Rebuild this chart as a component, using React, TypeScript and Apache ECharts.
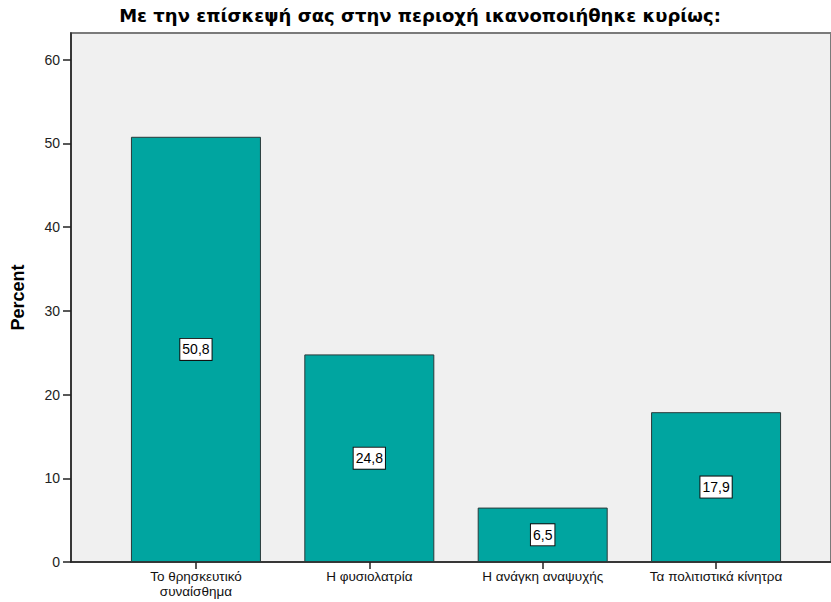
import React, { useEffect, useRef } from "react";
import * as echarts from "echarts";

const titleText = "Με την επίσκεψή σας στην περιοχή ικανοποιήθηκε κυρίως:";
const categories = [
  "Το θρησκευτικό\nσυναίσθημα",
  "Η φυσιολατρία",
  "Η ανάγκη αναψυχής",
  "Τα πολιτιστικά κίνητρα",
];
const percents = [50.8, 24.8, 6.5, 17.9];
const yTicks = [0, 10, 20, 30, 40, 50, 60];
const yMax = 63.2;

export default function App() {
  const ref = useRef<HTMLDivElement>(null);
  useEffect(() => {
    if (!ref.current) return;
    const chart = echarts.init(ref.current, null, { renderer: "svg" });
    const font = "Liberation Sans, Arial, sans-serif";
    chart.setOption({
      animation: false,
      backgroundColor: "#ffffff",
      textStyle: { fontFamily: font },
      graphic: [
        {
          type: "text",
          x: 420,
          y: 15,
          style: {
            text: titleText,
            fontSize: 18,
            fontWeight: "bold",
            fontFamily: "DejaVu Sans, sans-serif",
            fill: "#000",
            textAlign: "center",
            textVerticalAlign: "middle",
          },
        },
      ],
      grid: [
        {
          left: 71,
          right: -10,
          top: 33,
          bottom: 40,
          show: true,
          backgroundColor: "#F0F0F0",
          borderColor: "#7a7a7a",
          borderWidth: 2,
        },
        { left: 109.25, right: 28.25, top: 33, bottom: 40 },
      ],
      xAxis: [
        {
          gridIndex: 0,
          type: "value",
          min: 0,
          max: 1,
          axisLine: { show: true, lineStyle: { color: "#222", width: 1.5 } },
          axisTick: { show: false },
          axisLabel: { show: false },
          splitLine: { show: false },
        },
        {
          gridIndex: 1,
          type: "category",
          data: categories,
          axisLine: { show: false },
          axisTick: {
            show: true,
            alignWithLabel: true,
            length: 7,
            lineStyle: { color: "#222", width: 1.5 },
          },
          axisLabel: {
            color: "#111",
            fontSize: 13.5,
            lineHeight: 15,
            margin: 7,
            fontFamily: font,
            interval: 0,
          },
        },
      ],
      yAxis: [
        {
          gridIndex: 0,
          type: "value",
          min: 0,
          max: yMax,
          interval: 10,
          name: "Percent",
          nameLocation: "middle",
          nameGap: 44,
          nameTextStyle: {
            fontSize: 18,
            fontWeight: "bold",
            color: "#000",
            fontFamily: font,
          },
          axisLine: { show: true, lineStyle: { color: "#222", width: 1.5 } },
          axisTick: {
            show: true,
            length: 8,
            lineStyle: { color: "#222", width: 1.5 },
          },
          axisLabel: {
            color: "#222",
            fontSize: 14,
            margin: 11,
            fontFamily: font,
            showMaxLabel: false,
            formatter: (v: number) => (yTicks.includes(v) ? String(v) : ""),
          },
          splitLine: { show: false },
        },
        {
          gridIndex: 1,
          type: "value",
          min: 0,
          max: yMax,
          interval: 10,
          show: false,
          splitLine: { show: false },
        },
      ],
      series: [
        {
          type: "bar",
          xAxisIndex: 1,
          yAxisIndex: 1,
          data: percents,
          barWidth: 130,
          itemStyle: { color: "#00A5A0", borderColor: "#2a3a3a", borderWidth: 1 },
          label: {
            show: true,
            position: "inside",
            formatter: (p: any) => String(p.value).replace(".", ","),
            color: "#000",
            fontSize: 14,
            fontFamily: font,
            backgroundColor: "#fff",
            borderColor: "#111",
            borderWidth: 1,
            padding: [4, 2, 3, 2],
          },
        },
      ],
    });
    return () => chart.dispose();
  }, []);
  return (
    <div
      ref={ref}
      style={{ position: "fixed", left: 0, top: 0, width: 831, height: 602 }}
    />
  );
}
